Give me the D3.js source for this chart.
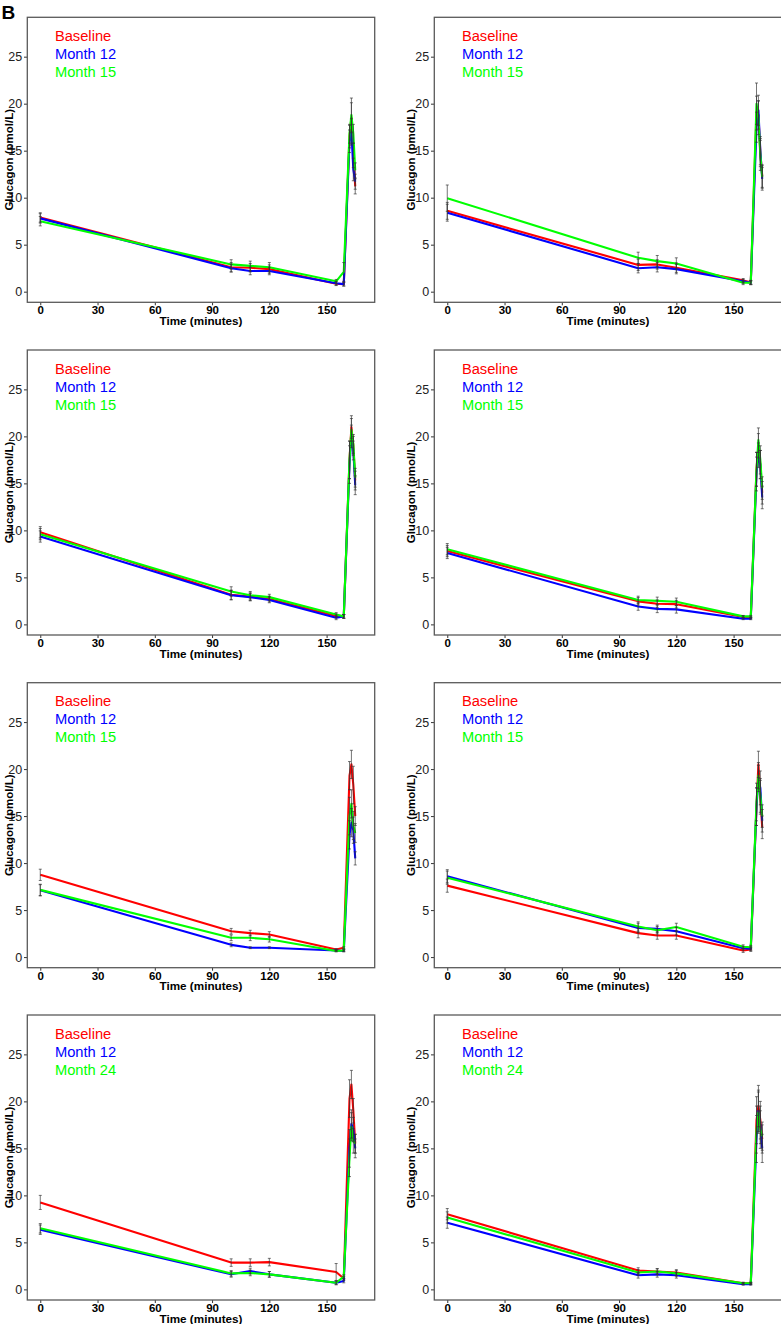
<!DOCTYPE html>
<html><head><meta charset="utf-8">
<script src="https://cdn.jsdelivr.net/npm/d3@7"></script>
<style>
body{margin:0;background:#fff;}
svg{display:block;}
text{font-family:"Liberation Sans",Arial,Helvetica,sans-serif;}
</style>
</head><body>
<svg id="c" width="781" height="1324"></svg>
<script>
// ---------- data ----------
const times = [0, 100, 110, 120, 155, 159, 162, 163, 164, 165];
const xTicks = [0, 30, 60, 90, 120, 150];
const yTicks = [0, 5, 10, 15, 20, 25];
const seriesColors = ["#FF0000", "#0000FF", "#00FF00"];
const legendLabels = [
  ["Baseline", "Month 12", "Month 15"],
  ["Baseline", "Month 12", "Month 15"],
  ["Baseline", "Month 12", "Month 15"],
  ["Baseline", "Month 12", "Month 15"],
  ["Baseline", "Month 12", "Month 15"],
  ["Baseline", "Month 12", "Month 15"],
  ["Baseline", "Month 12", "Month 24"],
  ["Baseline", "Month 12", "Month 24"]
];
// mean glucagon (pmol/L), one row per panel
const baselineMean = [
  [7.9, 2.6, 2.55, 2.4, 0.85, 0.8, 16.5, 18.5, 14.5, 11.2],
  [8.6, 2.85, 2.9, 2.55, 1.2, 1.0, 19.0, 18.8, 14.8, 12.3],
  [9.8, 3.15, 2.95, 2.7, 0.9, 0.85, 17.5, 21.0, 19.0, 15.3],
  [7.8, 2.45, 2.2, 2.15, 0.8, 0.7, 16.5, 19.0, 17.0, 14.0],
  [8.75, 2.75, 2.55, 2.4, 0.8, 1.0, 19.3, 20.5, 18.3, 15.0],
  [7.6, 2.55, 2.3, 2.3, 0.7, 0.8, 16.0, 20.5, 17.0, 13.8],
  [9.25, 2.85, 2.85, 2.9, 1.85, 1.15, 20.3, 21.8, 19.0, 15.5],
  [8.0, 2.0, 1.9, 1.8, 0.65, 0.65, 18.0, 19.5, 18.0, 16.0]
];
const month12Mean = [
  [7.8, 2.5, 2.2, 2.2, 0.9, 0.8, 16.0, 17.0, 13.0, 11.7],
  [8.4, 2.5, 2.6, 2.4, 1.1, 0.95, 17.5, 19.3, 15.0, 12.0],
  [9.35, 3.1, 2.9, 2.6, 0.7, 0.85, 17.0, 20.0, 18.5, 14.8],
  [7.6, 1.9, 1.65, 1.6, 0.6, 0.6, 16.0, 18.0, 17.0, 13.5],
  [7.1, 1.3, 1.0, 1.0, 0.7, 0.65, 13.0, 14.3, 13.5, 10.5],
  [8.6, 3.1, 3.0, 2.75, 0.95, 0.9, 16.0, 19.0, 18.0, 14.5],
  [6.35, 1.6, 1.95, 1.6, 0.7, 0.9, 15.0, 17.6, 17.0, 15.0],
  [7.1, 1.5, 1.6, 1.5, 0.55, 0.55, 16.0, 19.0, 17.5, 15.0]
];
const laterMean = [
  [7.5, 2.9, 2.75, 2.6, 1.1, 2.1, 16.8, 18.8, 16.8, 12.9],
  [9.95, 3.6, 3.25, 3.0, 0.95, 0.95, 20.0, 18.5, 14.5, 12.2],
  [9.6, 3.5, 3.1, 2.9, 1.05, 0.85, 17.5, 20.7, 19.2, 15.6],
  [8.0, 2.6, 2.5, 2.4, 0.85, 0.85, 16.5, 19.6, 17.5, 14.5],
  [7.15, 2.05, 2.05, 1.9, 0.65, 0.7, 15.0, 16.3, 14.0, 13.2],
  [8.45, 3.25, 2.85, 3.2, 1.1, 1.05, 16.5, 19.3, 17.2, 15.0],
  [6.5, 1.7, 1.75, 1.6, 0.7, 1.35, 14.0, 17.3, 15.8, 15.5],
  [7.65, 1.8, 1.9, 1.7, 0.65, 0.65, 17.0, 18.8, 17.0, 16.3]
];
// standard errors
const baselineSE = [
  [0.5, 0.5, 0.45, 0.45, 0.2, 0.2, 1.2, 1.6, 1.3, 0.8],
  [0.9, 0.6, 0.5, 0.5, 0.2, 0.2, 1.8, 1.5, 1.5, 1.2],
  [0.6, 0.5, 0.4, 0.3, 0.2, 0.2, 2.0, 1.2, 1.0, 1.0],
  [0.6, 0.4, 0.4, 0.4, 0.1, 0.1, 1.8, 1.3, 1.5, 1.2],
  [0.6, 0.3, 0.3, 0.3, 0.1, 0.1, 1.5, 1.5, 2.0, 1.0],
  [0.7, 0.5, 0.4, 0.4, 0.2, 0.2, 2.0, 1.4, 1.8, 1.2],
  [0.75, 0.4, 0.4, 0.4, 0.9, 0.2, 2.0, 1.5, 1.3, 1.0],
  [0.6, 0.3, 0.3, 0.3, 0.1, 0.1, 2.5, 2.2, 2.0, 1.5]
];
const month12SE = [
  [0.5, 0.4, 0.4, 0.4, 0.2, 0.2, 1.2, 1.4, 1.2, 0.8],
  [0.9, 0.5, 0.5, 0.5, 0.2, 0.2, 1.6, 1.6, 1.5, 1.2],
  [0.6, 0.5, 0.4, 0.3, 0.2, 0.2, 2.0, 1.2, 1.0, 1.0],
  [0.6, 0.4, 0.4, 0.4, 0.1, 0.1, 1.8, 1.3, 1.5, 1.2],
  [0.6, 0.2, 0.1, 0.1, 0.1, 0.1, 1.5, 1.5, 1.4, 0.7],
  [0.7, 0.5, 0.4, 0.4, 0.2, 0.2, 2.0, 1.4, 1.8, 1.2],
  [0.5, 0.3, 0.3, 0.3, 0.2, 0.2, 2.0, 1.5, 1.3, 1.0],
  [0.6, 0.3, 0.3, 0.3, 0.1, 0.1, 2.5, 2.2, 2.0, 1.5]
];
const laterSE = [
  [0.5, 0.5, 0.5, 0.5, 0.2, 1.0, 1.0, 1.8, 1.0, 0.8],
  [1.4, 0.6, 0.6, 0.6, 0.2, 0.2, 2.2, 1.8, 1.6, 1.2],
  [0.6, 0.5, 0.4, 0.3, 0.2, 0.2, 2.0, 1.2, 1.0, 1.0],
  [0.6, 0.4, 0.4, 0.4, 0.1, 0.1, 1.8, 1.3, 1.5, 1.2],
  [0.6, 0.3, 0.3, 0.3, 0.1, 0.1, 2.0, 1.5, 1.5, 1.0],
  [0.7, 0.5, 0.4, 0.4, 0.2, 0.2, 2.0, 1.4, 1.8, 1.2],
  [0.5, 0.3, 0.3, 0.3, 0.2, 0.2, 2.0, 1.5, 1.3, 1.0],
  [0.6, 0.3, 0.3, 0.3, 0.1, 0.1, 2.5, 2.2, 2.0, 1.5]
];

// ---------- layout ----------
const svg = d3.select("#c");
const colX = [27.3, 434.3];
const rowY = [17.3, 350, 682.7, 1015];
const pw = 347.4, ph = 285;
const yTitleX = [13, 415];

const x = d3.scaleLinear().domain([-6.8, 175.2]).range([0, pw]);
const y = d3.scaleLinear().domain([-1.13, 29.19]).range([ph, 0]);

// panel letter
svg.append("text").attr("x", 1.5).attr("y", 19)
  .attr("font-size", 19).attr("font-weight", "bold").attr("fill", "#000").text("B");

const means = [baselineMean, month12Mean, laterMean];
const ses = [baselineSE, month12SE, laterSE];

for (let p = 0; p < 8; p++) {
  const col = p % 2, row = Math.floor(p / 2);
  const g = svg.append("g").attr("transform", `translate(${colX[col]},${rowY[row]})`);

  // y axis
  const ya = g.append("g").call(d3.axisLeft(y).tickValues(yTicks).tickSize(3.3).tickPadding(1.8));
  ya.select(".domain").remove();
  ya.selectAll("line").attr("stroke", "#333");
  ya.selectAll("text").attr("font-size", 12.5).attr("fill", "#222")
    .style("font-family", '"Liberation Sans",Arial,sans-serif');

  // x axis
  const xa = g.append("g").attr("transform", `translate(0,${ph})`)
    .call(d3.axisBottom(x).tickValues(xTicks).tickSize(3).tickPadding(1));
  xa.select(".domain").remove();
  xa.selectAll("line").attr("stroke", "#333");
  xa.selectAll("text").attr("font-size", 11.5).attr("font-weight", "bold").attr("fill", "#000")
    .style("font-family", '"Liberation Sans",Arial,sans-serif');

  // lines
  const line = d3.line().x((d, i) => x(times[i])).y(d => y(d));
  means.forEach((m, s) => {
    g.append("path").datum(m[p]).attr("d", line)
      .attr("fill", "none").attr("stroke", seriesColors[s]).attr("stroke-width", 2.1)
      .attr("stroke-linejoin", "round");
  });

  // error bars
  means.forEach((m, s) => {
    const eg = g.append("g").attr("stroke", "#333").attr("stroke-opacity", 0.75).attr("stroke-width", 0.9);
    m[p].forEach((v, i) => {
      const e = ses[s][p][i];
      const cx = x(times[i]);
      eg.append("line").attr("x1", cx).attr("x2", cx).attr("y1", y(v - e)).attr("y2", y(v + e));
      eg.append("line").attr("x1", cx - 1.5).attr("x2", cx + 1.5).attr("y1", y(v - e)).attr("y2", y(v - e));
      eg.append("line").attr("x1", cx - 1.5).attr("x2", cx + 1.5).attr("y1", y(v + e)).attr("y2", y(v + e));
    });
  });

  // frame
  g.append("rect").attr("x", 0).attr("y", 0).attr("width", pw).attr("height", ph)
    .attr("fill", "none").attr("stroke", "#5a5a5a").attr("stroke-width", 1.3);

  // legend
  legendLabels[p].forEach((lab, s) => {
    g.append("text").attr("x", 27.6).attr("y", 23.5 + 18 * s)
      .attr("font-size", 14.7).attr("fill", seriesColors[s]).text(lab);
  });

  // axis titles
  g.append("text").attr("x", pw / 2).attr("y", ph + 22.7).attr("text-anchor", "middle")
    .attr("font-size", 11.7).attr("font-weight", "bold").attr("fill", "#000").text("Time (minutes)");
  svg.append("text")
    .attr("transform", `translate(${yTitleX[col]},${rowY[row] + ph / 2}) rotate(-90)`)
    .attr("text-anchor", "middle").attr("font-size", 11.5).attr("font-weight", "bold").attr("fill", "#000")
    .text("Glucagon (pmol/L)");
}
</script>
</body></html>
